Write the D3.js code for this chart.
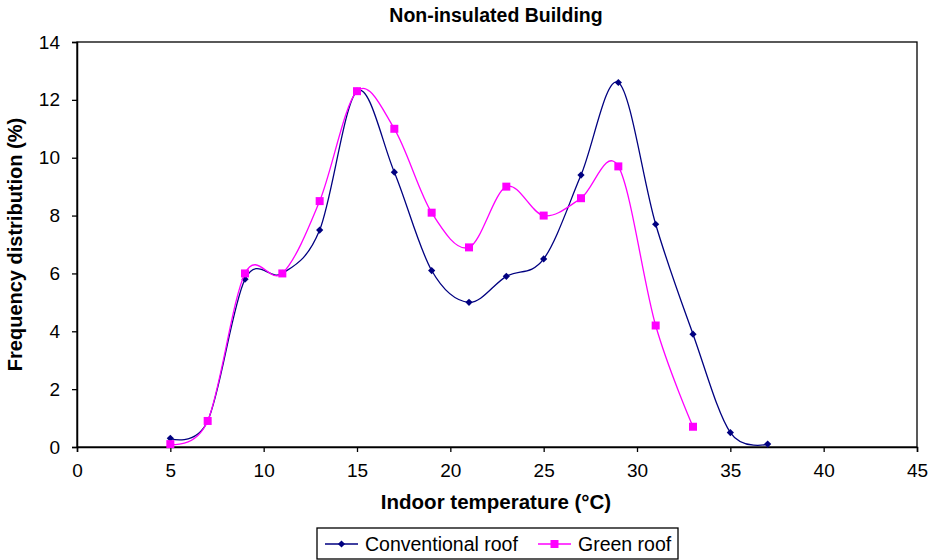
<!DOCTYPE html>
<html>
<head>
<meta charset="utf-8">
<script src="https://cdn.jsdelivr.net/npm/d3@7"></script>
<style>
  body { margin: 0; background: #fff; }
  text { font-family: "Liberation Sans", Arial, sans-serif; }
</style>
</head>
<body>
<div id="chart"></div>
<script>
const width = 928;
const height = 560;
const margin = {top: 42, right: 11, bottom: 113, left: 77};

// data
const convX = [5, 7, 9, 11, 13, 15, 17, 19, 21, 23, 25, 27, 29, 31, 33, 35, 37];
const convY = [0.3, 0.9, 5.8, 6.0, 7.5, 12.3, 9.5, 6.1, 5.0, 5.9, 6.5, 9.4, 12.6, 7.7, 3.9, 0.5, 0.1];
const greenX = [5, 7, 9, 11, 13, 15, 17, 19, 21, 23, 25, 27, 29, 31, 33];
const greenY = [0.1, 0.9, 6.0, 6.0, 8.5, 12.3, 11.0, 8.1, 6.9, 9.0, 8.0, 8.6, 9.7, 4.2, 0.7];
const xTicks = [0, 5, 10, 15, 20, 25, 30, 35, 40, 45];
const yTicks = [0, 2, 4, 6, 8, 10, 12, 14];

const series = [
  {name: "Conventional roof", color: "#000080", marker: "diamond", pts: convX.map((x, i) => [x, convY[i]])},
  {name: "Green roof", color: "#ff00ff", marker: "square", pts: greenX.map((x, i) => [x, greenY[i]])}
];

const svg = d3.select("#chart").append("svg")
  .attr("width", width).attr("height", height);

const x = d3.scaleLinear().domain([0, 45]).range([margin.left, width - margin.right]);
const y = d3.scaleLinear().domain([0, 14]).range([height - margin.bottom, margin.top]);

// plot frame
svg.append("rect")
  .attr("x", x(0)).attr("y", y(14))
  .attr("width", x(45) - x(0)).attr("height", y(0) - y(14))
  .attr("fill", "none").attr("stroke", "#000").attr("stroke-width", 1.3);

const xAxis = svg.append("g")
  .attr("transform", `translate(0,${y(0)})`)
  .call(d3.axisBottom(x).tickValues(xTicks).tickSize(5).tickPadding(12));
const yAxis = svg.append("g")
  .attr("transform", `translate(${x(0)},0)`)
  .call(d3.axisLeft(y).tickValues(yTicks).tickSize(5).tickPadding(12));

[xAxis, yAxis].forEach(g => {
  g.select(".domain").attr("stroke", "#000").attr("stroke-width", 1.5);
  g.selectAll(".tick line").attr("stroke", "#000").attr("stroke-width", 1.3);
  g.selectAll(".tick text").attr("font-size", 19).attr("fill", "#000")
    .style("font-family", "'Liberation Sans', Arial, sans-serif");
});

// smooth lines like Excel
const line = d3.line().x(d => x(d[0])).y(d => y(d[1])).curve(d3.curveCardinal.tension(0));

function markerPath(m) {
  return m === "square"
    ? d3.symbol().type(d3.symbolSquare).size(64)()
    : d3.symbol().type(d3.symbolSquare).size(26)();
}
function markerRot(m) { return m === "square" ? "" : " rotate(45)"; }

series.forEach(s => {
  svg.append("path")
    .attr("d", line(s.pts))
    .attr("fill", "none")
    .attr("stroke", s.color)
    .attr("stroke-width", 1.3);

  svg.append("g").selectAll("path")
    .data(s.pts)
    .join("path")
    .attr("transform", d => `translate(${x(d[0])},${y(d[1])})${markerRot(s.marker)}`)
    .attr("d", markerPath(s.marker))
    .attr("fill", s.color);
});

// title and axis labels
svg.append("text")
  .attr("x", 496).attr("y", 22)
  .attr("text-anchor", "middle")
  .attr("font-size", 19.5).attr("font-weight", "bold")
  .text("Non-insulated Building");

svg.append("text")
  .attr("x", 496).attr("y", 509)
  .attr("text-anchor", "middle")
  .attr("font-size", 20.5).attr("font-weight", "bold")
  .text("Indoor temperature (°C)");

svg.append("text")
  .attr("transform", `translate(22,${(y(0) + y(14)) / 2}) rotate(-90)`)
  .attr("text-anchor", "middle")
  .attr("font-size", 20).attr("font-weight", "bold")
  .text("Frequency distribution (%)");

// legend
const legend = svg.append("g").attr("transform", "translate(317,528)");
legend.append("rect")
  .attr("width", 361).attr("height", 31)
  .attr("fill", "#fff").attr("stroke", "#000").attr("stroke-width", 1.3);

const legendX = [8, 221];
series.forEach((s, i) => {
  const g = legend.append("g").attr("transform", `translate(${legendX[i]},16)`);
  g.append("line").attr("x1", 0).attr("x2", 33).attr("stroke", s.color).attr("stroke-width", 1.3);
  g.append("path")
    .attr("transform", "translate(16.5,0)" + markerRot(s.marker))
    .attr("d", markerPath(s.marker))
    .attr("fill", s.color);
  g.append("text")
    .attr("x", 40).attr("y", 7)
    .attr("font-size", 19.5)
    .text(s.name);
});
</script>
</body>
</html>
